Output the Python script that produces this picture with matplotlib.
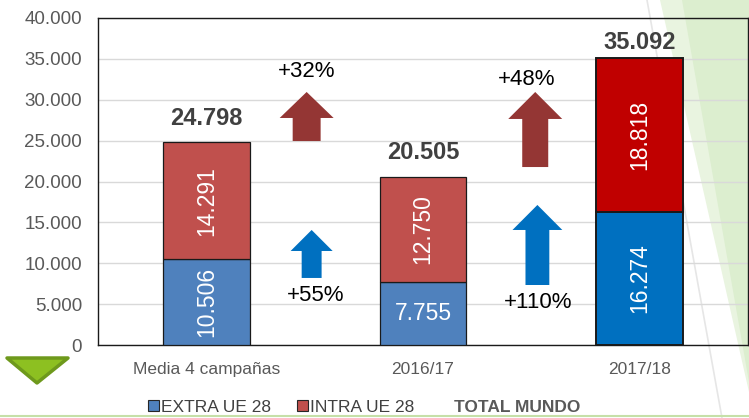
import matplotlib
matplotlib.use("Agg")
import matplotlib.pyplot as plt
from matplotlib.patches import Polygon, Patch, FancyArrow
from matplotlib.lines import Line2D

plt.rcParams['font.family'] = ['Liberation Sans', 'DejaVu Sans']

# ---------------- data ----------------
categories = ["Media 4 campañas", "2016/17", "2017/18"]
extra_ue = [10506, 7755, 16274]
intra_ue = [14291, 12750, 18818]
totals = [24798, 20505, 35092]
extra_labels = ["10.506", "7.755", "16.274"]
intra_labels = ["14.291", "12.750", "18.818"]
total_labels = ["24.798", "20.505", "35.092"]
yticks = [0, 5000, 10000, 15000, 20000, 25000, 30000, 35000, 40000]
growth_intra = ["+32%", "+48%"]
growth_extra = ["+55%", "+110%"]
legend_labels = ["EXTRA UE 28", "INTRA UE 28", "TOTAL MUNDO"]

# ---------------- style ----------------
blue_std, red_std = "#4F81BD", "#C0504D"
blue_hi, red_hi = "#0070C0", "#C00000"
blue_cols = [blue_std, blue_std, blue_hi]
red_cols = [red_std, red_std, red_hi]
edge_lw = [0.9, 0.9, 1.4]
arrow_red, arrow_blue = "#943634", "#0070C0"

W, H = 749, 418
fig = plt.figure(figsize=(W / 100, H / 100), dpi=100)
fig.patch.set_facecolor("white")

def fx(px):
    return px / W

def fy(py):
    return 1 - py / H

# background decorations (slide template)
fig.add_artist(Polygon([(fx(660), fy(0)), (fx(749), fy(0)), (fx(749), fy(392))],
                       closed=True, transform=fig.transFigure, facecolor="#E9F4E0",
                       edgecolor="none", zorder=-3))
fig.add_artist(Polygon([(fx(682), fy(0)), (fx(749), fy(0)), (fx(749), fy(382))],
                       closed=True, transform=fig.transFigure, facecolor="#DCEECF",
                       edgecolor="none", zorder=-2))
fig.add_artist(Line2D([fx(647), fx(722)], [fy(0), fy(418)], transform=fig.transFigure,
                      color="#E6E6E6", lw=1.2, zorder=-1))
fig.add_artist(Line2D([0, 1], [fy(416), fy(416)], transform=fig.transFigure,
                      color="#C6E0A8", lw=1.5, zorder=-1))
fig.add_artist(Polygon([(fx(7), fy(358)), (fx(68), fy(358)), (fx(37), fy(383))],
                       closed=True, transform=fig.transFigure, facecolor="#8DC021",
                       edgecolor="#6E991C", lw=2.5, joinstyle="round", zorder=1))

ax = fig.add_axes([fx(98), 73 / H, 650 / W, 327 / H])
ax.patch.set_alpha(0)

x = list(range(len(categories)))
bw = 0.4
ax.bar(x, extra_ue, width=bw, color=blue_cols, edgecolor="#1A1A1A", linewidth=edge_lw, zorder=3)
ax.bar(x, intra_ue, width=bw, bottom=extra_ue, color=red_cols, edgecolor="#1A1A1A",
       linewidth=edge_lw, zorder=3)

ax.set_xlim(-0.5, 2.5)
ax.set_ylim(0, 40000)
ax.set_yticks(yticks)
ax.set_yticklabels([f"{v:,}".replace(",", ".") for v in yticks])
ax.set_xticks(x)
ax.set_xticklabels(categories)
ax.tick_params(axis="y", length=0, pad=11.5, labelsize=13.5, labelcolor="#595959")
ax.tick_params(axis="x", length=0, pad=12, labelsize=12.5, labelcolor="#595959")
ax.grid(axis="y", color="#D9D9D9", lw=1, zorder=0)
ax.set_axisbelow(True)
for s in ax.spines.values():
    s.set_color("#1A1A1A")
    s.set_linewidth(1)

# segment labels
for i in x:
    rot = 0 if i == 1 else 90
    ax.text(i, extra_ue[i] / 2, extra_labels[i], rotation=rot, ha="center", va="center",
            color="white", fontsize=16.5, zorder=5)
    ax.text(i, extra_ue[i] + intra_ue[i] / 2, intra_labels[i], rotation=90, ha="center",
            va="center", color="white", fontsize=16.5, zorder=5)

# totals
total_offsets = [17, 18, 11.5]
for i in x:
    ax.annotate(total_labels[i], (i, totals[i]), xytext=(0, total_offsets[i]),
                textcoords="offset points", ha="center", va="center", fontsize=17,
                fontweight="bold", color="#404040", zorder=5)

# growth arrows (between categories)
def up_arrow(xc, y0, y1, tip, sw, hw, color):
    ax.add_patch(FancyArrow(xc, y0, 0, tip - y0, width=sw, head_width=hw,
                            head_length=tip - y1, length_includes_head=True,
                            color=color, lw=0, zorder=4))

up_arrow(0.463, 24950, 27770, 30950, 0.129, 0.249, arrow_red)
up_arrow(0.486, 8200, 11500, 14070, 0.092, 0.194, arrow_blue)
up_arrow(1.518, 21770, 27650, 30950, 0.120, 0.249, arrow_red)
up_arrow(1.528, 7340, 14070, 17130, 0.110, 0.230, arrow_blue)

ax.text(0.463, 33400, growth_intra[0], ha="center", va="center", fontsize=16, color="black", zorder=5)
ax.text(1.48, 32420, growth_intra[1], ha="center", va="center", fontsize=16, color="black", zorder=5)
ax.text(0.505, 6000, growth_extra[0], ha="center", va="center", fontsize=16, color="black", zorder=5)
ax.text(1.53, 5140, growth_extra[1], ha="center", va="center", fontsize=16, color="black", zorder=5)

# legend
handles = [Patch(facecolor=blue_std, edgecolor="#262626", lw=0.8),
           Patch(facecolor=red_std, edgecolor="#262626", lw=0.8),
           Patch(facecolor="none", edgecolor="none")]
leg = fig.legend(handles, legend_labels, loc="center", bbox_to_anchor=(364 / W, 10.5 / H),
                 ncol=3, frameon=False, fontsize=12.5, handlelength=0.6, handleheight=0.6,
                 handletextpad=0.15, columnspacing=1.5, borderaxespad=0, borderpad=0)
for t in leg.get_texts():
    t.set_color("#404040")
leg.get_texts()[2].set_fontweight("bold")
leg.get_texts()[2].set_color("#595959")

fig.savefig("out.png", dpi=100)
